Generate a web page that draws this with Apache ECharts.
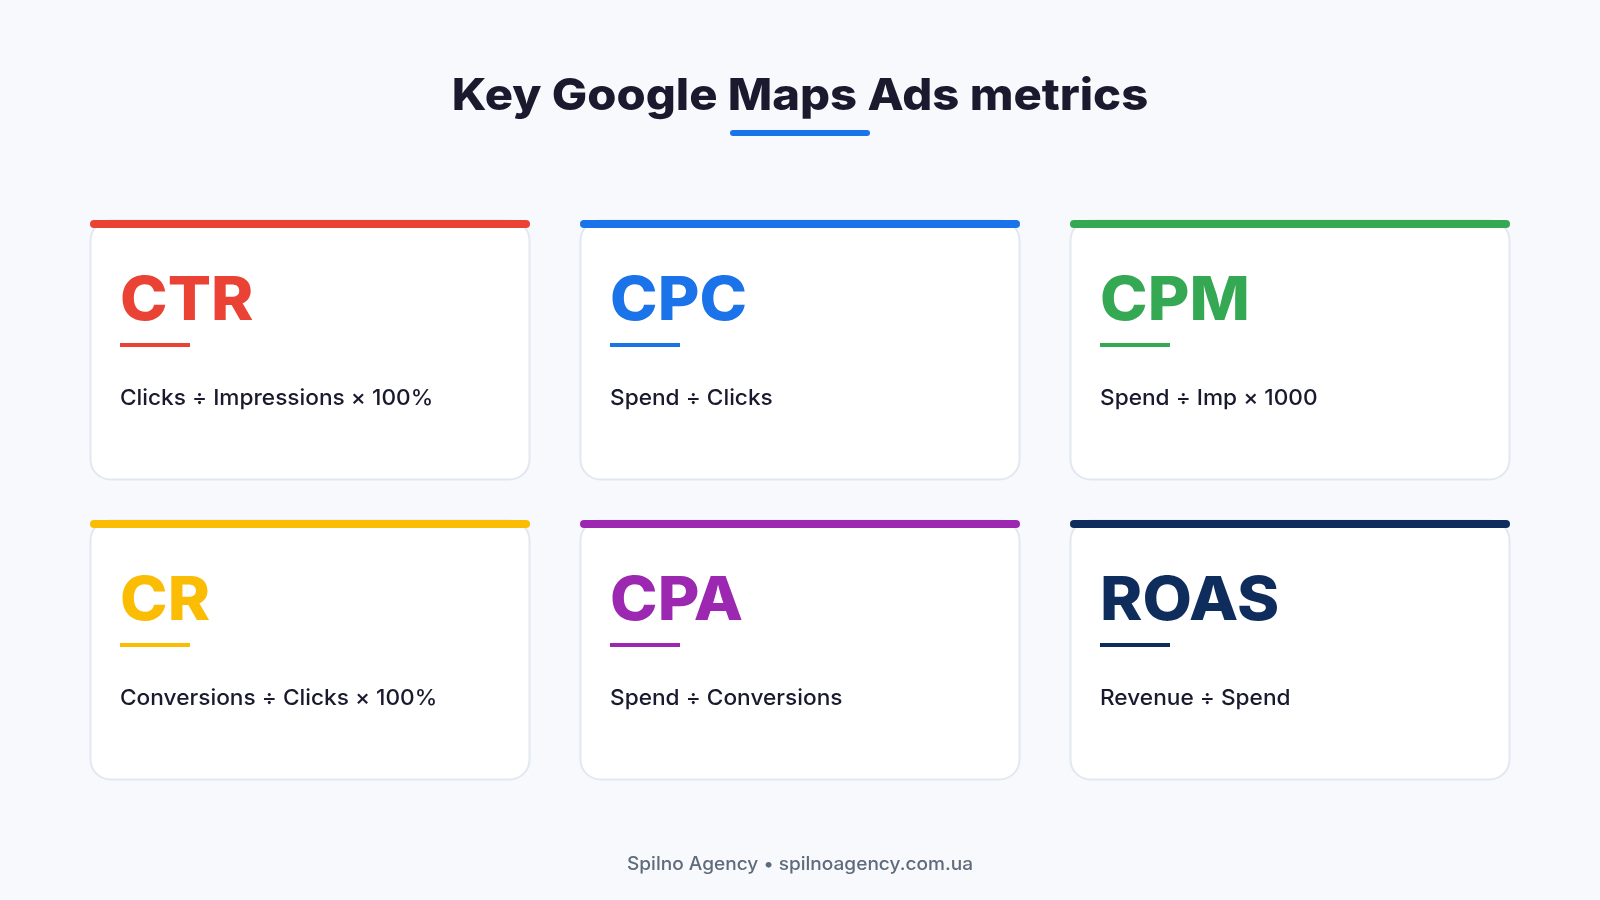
<!DOCTYPE html>
<html><head><meta charset="utf-8">
<style>html,body{margin:0;padding:0;background:#f7f9fc}#c{width:1600px;height:900px}</style>
<script src="https://cdn.jsdelivr.net/npm/echarts@6/dist/echarts.min.js"></script>
</head><body><div id="c"></div>
<script>
const chartTitle = "Key Google Maps Ads metrics";
const footerText = "Spilno Agency • spilnoagency.com.ua";
const metrics = ["CTR","CPC","CPM","CR","CPA","ROAS"];
const formulas = ["Clicks ÷ Impressions × 100%","Spend ÷ Clicks","Spend ÷ Imp × 1000","Conversions ÷ Clicks × 100%","Spend ÷ Conversions","Revenue ÷ Spend"];
const colors = ["#EA4335","#1A73E8","#34A853","#FBBC04","#9C27B0","#0F2D5C"];
const columns = ["a","b","c"];
const rows = ["r1","r2"];
const cells = metrics.map((m,i)=>[i%3, Math.floor(i/3), i]);
const FONT = "Inter";
const chart = echarts.init(document.getElementById('c'));
chart.setOption({
  backgroundColor:"#f7f9fc",
  animation:false,
  grid:{left:65,top:200,width:1470,height:600},
  xAxis:{type:'category',data:columns,show:false},
  yAxis:{type:'category',data:rows,inverse:true,show:false},
  graphic:[
    {type:'text',x:800,y:119,scaleX:1.072,style:{text:chartTitle,font:`800 44px ${FONT}`,fill:"#1a1a2e",textAlign:'center',textVerticalAlign:'bottom'}},
    {type:'rect',shape:{x:730,y:130,width:140,height:6,r:3},style:{fill:"#1A73E8"}},
    {type:'text',x:800,y:865,scaleX:1.06,style:{text:footerText,font:`500 18px ${FONT}`,fill:"#5f6b7a",textAlign:'center',textVerticalAlign:'middle'}}
  ],
  series:[{
    type:'custom',coordinateSystem:'cartesian2d',silent:true,clip:false,
    data:cells,encode:{x:0,y:1},
    renderItem(params,api){
      const i=api.value(2);
      const c=api.coord([api.value(0),api.value(1)]);
      const w=440,h=260,x=c[0]-w/2,y=c[1]-h/2,col=colors[i];
      return {type:'group',children:[
        {type:'rect',shape:{x:x+0.5,y:y+0.5,width:w-1,height:h-1,r:20},style:{fill:"#fff",stroke:"#e2e8f0",lineWidth:2}},
        {type:'rect',shape:{x:x,y:y,width:w,height:8,r:4},style:{fill:col}},
        {type:'text',x:x+30,y:y+51,scaleX:1.05,style:{text:metrics[i],font:`800 61px ${FONT}`,fill:col}},
        {type:'rect',shape:{x:x+30,y:y+123,width:70,height:4},style:{fill:col}},
        {type:'text',x:x+30,y:y+167.5,scaleX:1.03,style:{text:formulas[i],font:`500 22px ${FONT}`,fill:"#1a1a2e"}}
      ]};
    }
  }]
});
</script></body></html>
